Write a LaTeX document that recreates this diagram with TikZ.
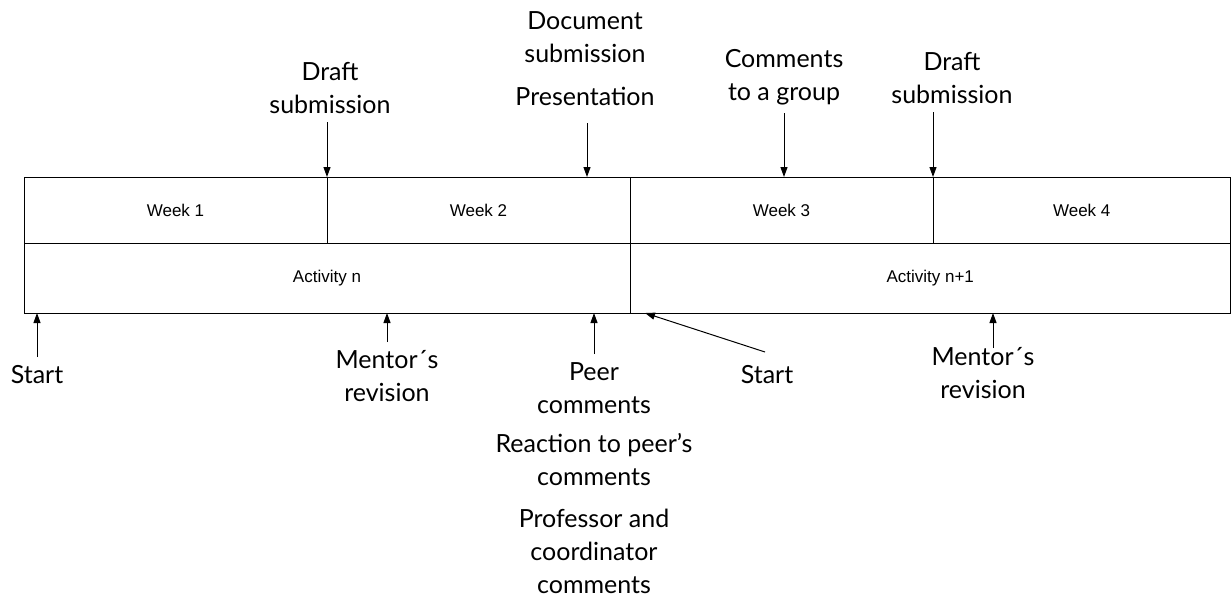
\documentclass[tikz,border=0pt]{standalone}
\usepackage{fontspec}
\setmainfont{Lato}
\newfontfamily\cellfont{Liberation Sans}
\usetikzlibrary{arrows.meta, positioning, calc}

\tikzset{
  cell/.style={draw, line width=1pt, inner sep=0pt, outer sep=0pt,
               font=\cellfont\fontsize{17}{20}\selectfont},
  lbl/.style={font=\fontsize{25}{33}\selectfont, align=center,
              inner xsep=2pt, inner ysep=8pt},
  tick/.style={-{Triangle[length=10pt, width=7pt]}, line width=1pt}
}

\begin{document}
\begin{tikzpicture}[x=1pt, y=-1pt]
  \useasboundingbox (0,0) rectangle (1231,598);

  % weeks
  \node[cell, anchor=north west, minimum width=303pt, minimum height=66pt]
    (w1) at (24,177) {Week 1};
  \node[cell, right=0pt of w1, minimum width=303pt, minimum height=66pt]
    (w2) {Week 2};
  \node[cell, right=0pt of w2, minimum width=303pt, minimum height=66pt]
    (w3) {Week 3};
  \node[cell, right=0pt of w3, minimum width=297.5pt, minimum height=66pt]
    (w4) {Week 4};

  % activities
  \node[cell, anchor=north west, minimum width=606pt, minimum height=70pt]
    (a1) at (w1.south west) {Activity n};
  \node[cell, anchor=north west, minimum width=600.5pt, minimum height=70pt]
    (a2) at (a1.north east) {Activity n+1};

  % events above
  \node[lbl, anchor=south] (draft1) at (330,122) {Draft\\submission};
  \node[lbl, anchor=south] (pres) at (585,114) {Presentation};
  \node[lbl, above=8pt of pres] (doc) {Document\\submission};
  \node[lbl, anchor=south] (group) at (784,113) {Comments\\to a group};
  \node[lbl, anchor=south] (draft2) at (952,112) {Draft\\submission};

  \coordinate (presfoot) at ($(pres.south)+(2,9)$);

  \draw[tick] (draft1.south -| w1.east) -- (w1.north east);
  \draw[tick] (presfoot) -- (presfoot |- w2.north);
  \draw[tick] (group.south) -- (group.south |- w3.north);
  \draw[tick] (draft2.south -| w4.west) -- (w4.north west);

  % events below
  \node[lbl, anchor=north] (start1) at (37,357) {Start};
  \node[lbl, anchor=north] (mentor1) at (387,342) {Mentor´s\\revision};
  \node[lbl, anchor=north] (peer) at (594,354) {Peer\\comments};
  \node[lbl, below=4pt of peer] (react) {Reaction to peer’s\\comments};
  \node[lbl, below=7pt of react] (prof) {Professor and\\coordinator\\comments};
  \node[lbl, anchor=north] (start2) at (767,357) {Start};
  \node[lbl, anchor=north] (mentor2) at (983,339) {Mentor´s\\revision};

  \coordinate (next) at ($(a2.south west)+(15,0)$);
  \coordinate (m2foot) at ($(mentor2.north)+(10,9)$);

  \draw[tick] (start1.north) -- (start1.north |- a1.south);
  \draw[tick] (mentor1.north) -- (mentor1.north |- a1.south);
  \draw[tick] (peer.north) -- (peer.north |- a1.south);
  \draw[tick] ($(start2.north)+(-2,-5)$) -- (next);
  \draw[tick] (m2foot) -- (m2foot |- a2.south);
\end{tikzpicture}
\end{document}
